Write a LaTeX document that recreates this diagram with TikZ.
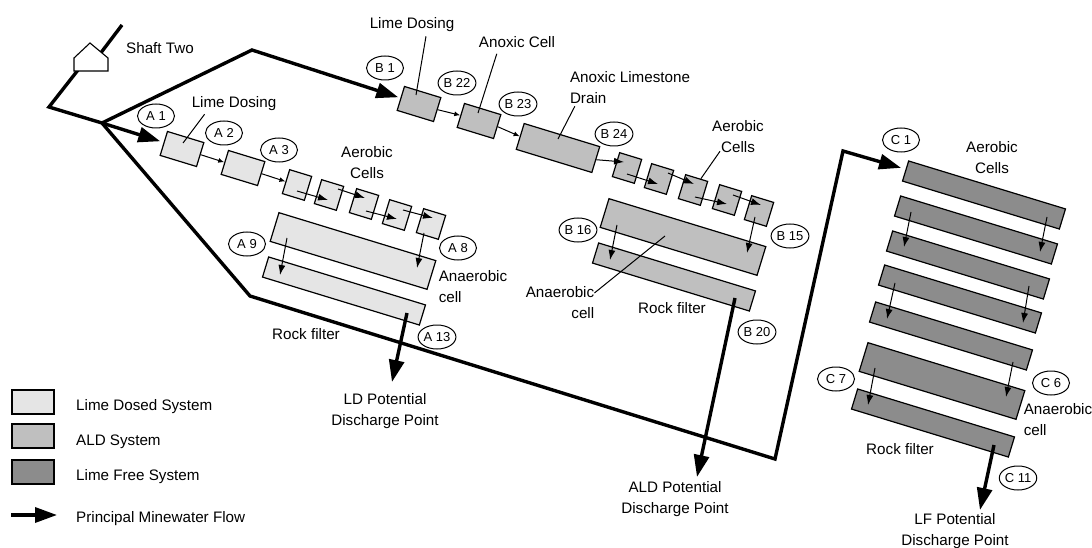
\documentclass[tikz,border=0pt]{standalone}
\usepackage{fontspec}
\setmainfont{Liberation Sans}
\usetikzlibrary{shapes.geometric,arrows.meta,calc}
\definecolor{limegrey}{gray}{0.90}
\definecolor{aldgrey}{gray}{0.75}
\definecolor{freegrey}{gray}{0.55}
\tikzset{
  unit/.style={draw,line width=1.2pt,rotate=-17,inner sep=0pt},
  dosing/.style={unit,minimum width=38pt,minimum height=25pt},
  cell/.style={unit,minimum width=23pt,minimum height=25pt},
  anaerobic/.style={unit,minimum width=164pt,minimum height=30pt},
  filter/.style={unit,minimum width=164pt,minimum height=21pt},
  legendbox/.style={draw,line width=1.4pt,minimum width=42pt,minimum height=24pt,inner sep=0pt},
  tag/.style={ellipse,draw,fill=white,line width=1pt,minimum width=37pt,minimum height=24pt,
    inner sep=0pt,font=\fontsize{13}{14}\selectfont},
  caption/.style={align=center,inner sep=0pt,font=\fontsize{15.2}{21}\selectfont},
  pipe/.style={line width=3.4pt,line join=miter},
  mainflow/.style={pipe,-{Triangle[length=22pt,width=15pt]}},
  smallflow/.style={line width=1pt,-{Latex[length=6pt,width=5pt]}},
  cellflow/.style={line width=1pt,-{Latex[length=10pt,width=7pt]}},
  leader/.style={line width=1pt}
}
\begin{document}
\begin{tikzpicture}[x=1pt,y=-1pt]
  \useasboundingbox (0,0) rectangle (1092,548);
  % pipe work
  \coordinate (shafttop) at (122,25);
  \coordinate (shaftneck) at (100,54);
  \coordinate (shaftfoot) at (78,70);
  \coordinate (bend) at (49,107);
  \coordinate (junction) at (102,123);
  \coordinate (upper) at (252,50);
  \coordinate (lower) at (250,296);
  \coordinate (far) at (775,459);
  \coordinate (rise) at (843,151);
  \node[dosing,fill=limegrey] (a1) at (182,149) {};
  \node[dosing,fill=limegrey] (a2) at (243,168) {};
  \node[cell,fill=limegrey] (acell1) at (297,185) {};
  \node[cell,fill=limegrey] (acell2) at (329,195) {};
  \node[cell,fill=limegrey] (acell3) at (364,204) {};
  \node[cell,fill=limegrey] (acell4) at (397,215) {};
  \node[cell,fill=limegrey] (acell5) at (431,224) {};
  \node[anaerobic,fill=limegrey] (asettle) at (353,251) {};
  \node[filter,fill=limegrey] (afilter) at (344,291) {};
  \node[dosing,fill=aldgrey] (b1) at (419,104) {};
  \node[dosing,fill=aldgrey] (b2) at (479,121) {};
  \node[unit,fill=aldgrey,minimum width=79pt,minimum height=27pt] (bdrain) at (558,148) {};
  \node[cell,fill=aldgrey] (bcell1) at (627,168) {};
  \node[cell,fill=aldgrey] (bcell2) at (659,179) {};
  \node[cell,fill=aldgrey] (bcell3) at (693,190) {};
  \node[cell,fill=aldgrey] (bcell4) at (727,200) {};
  \node[cell,fill=aldgrey] (bcell5) at (759,211) {};
  \node[anaerobic,fill=aldgrey] (bsettle) at (683,237) {};
  \node[filter,fill=aldgrey] (bfilter) at (674,277) {};
  \node[filter,fill=freegrey] (c1) at (984,195) {};
  \node[filter,fill=freegrey] (c2) at (976,230) {};
  \node[filter,fill=freegrey] (c3) at (968,265) {};
  \node[filter,fill=freegrey] (c4) at (960,299) {};
  \node[filter,fill=freegrey] (c5) at (951,336) {};
  \node[anaerobic,fill=freegrey] (c6) at (942,381) {};
  \node[filter,fill=freegrey] (c7) at (933,423) {};
  \draw[pipe] (shafttop) -- (shaftneck);
  \draw[pipe] (shaftfoot) -- (bend) -- (junction);
  \draw[mainflow] (junction) -- (upper) -- ($(b1.west)+(-2,-1)$);
  \draw[mainflow] (junction) -- ($(a1.west)+(-3,-2)$);
  \draw[mainflow] (junction) -- (lower) -- (far) -- (rise) -- ($(c1.west)+(-4,-3)$);
  \draw[fill=white,line width=1.1pt] (74,71) -- (74,58) -- (90,43) -- (108,58) -- (108,71) -- cycle;
  % flow between units
  \draw[smallflow] (a1.east) -- (a2.west);
  \draw[smallflow] (a2.east) -- (acell1.west);
  \draw[smallflow] (b1.east) -- (b2.west);
  \draw[smallflow] (b2.east) -- (bdrain.west);
  \draw[cellflow] (bdrain.east) -- ($(bcell1)+(-3,-6)$);
  \foreach \sys in {a,b} {
    \draw[cellflow] ($(\sys cell1)+(0,6)$) -- ($(\sys cell2)+(-1,5)$);
    \draw[cellflow] ($(\sys cell2)+(9,-6)$) -- ($(\sys cell3)+(1,-6)$);
    \draw[cellflow] ($(\sys cell3)+(2,7)$) -- ($(\sys cell4)+(0,4)$);
    \draw[cellflow] ($(\sys cell4)+(6,-5)$) -- ($(\sys cell5)+(2,-6)$);
  }
  \foreach \from/\sx/\sy/\to/\ex/\ey in {acell5/-7/9/asettle/64/17,asettle/-66/-13/afilter/-64/-16,
    bcell5/-4/6/bsettle/64/16,bsettle/-66/-12/bfilter/-64/-17,
    c1/63/22/c2/64/22,c2/-65/-18/c3/-64/-18,c3/61/21/c4/63/24,
    c4/-65/-16/c5/-64/-17,c5/62/26/c6/64/16,c6/-67/-13/c7/-65/-18}
    \draw[cellflow] ($(\from)+(\sx,\sy)$) -- ($(\to)+(\ex,\ey)$);
  % discharge points
  \coordinate (ldout) at (392,382);
  \coordinate (aldout) at (697,477);
  \coordinate (lfout) at (980,510);
  \draw[mainflow] ($(afilter)+(63,22)$) -- (ldout);
  \draw[mainflow] ($(bfilter)+(61,21)$) -- (aldout);
  \draw[mainflow] ($(c7)+(61,22)$) -- (lfout);
  \node[caption] (ldtext) at (385,411) {LD Potential\\Discharge Point};
  \node[caption] (aldtext) at (675,499) {ALD Potential\\Discharge Point};
  \node[caption] (lftext) at (955,531) {LF Potential\\Discharge Point};
  % texts
  \node[caption] (shafttext) at (160,48) {Shaft Two};
  \node[caption] (alime) at (234,104) {Lime Dosing};
  \node[caption] (aaerobic) at (367,163) {Aerobic\\Cells};
  \node[caption,align=left] (aanaerobic) at (473,287) {Anaerobic\\cell};
  \node[caption] (arock) at (306,334) {Rock filter};
  \node[caption] (blime) at (412,25) {Lime Dosing};
  \node[caption] (banoxic) at (517,42) {Anoxic Cell};
  \node[caption,align=left] (bdraintext) at (630,88) {Anoxic Limestone\\Drain};
  \node[caption] (baerobic) at (738,137) {Aerobic\\Cells};
  \node[caption,align=right] (banaerobic) at (560,303) {Anaerobic\\cell};
  \node[caption] (brock) at (672,308) {Rock filter};
  \node[caption] (caerobic) at (992,158) {Aerobic\\Cells};
  \node[caption,align=left] (canaerobic) at (1058,420) {Anaerobic\\cell};
  \node[caption] (crock) at (900,449) {Rock filter};
  \draw[leader] (alime.south west) ++(13,3) -- ($(a1)+(1,-6)$);
  \draw[leader] (blime.south) ++(14,4) -- ($(b1)+(-3,-9)$);
  \draw[leader] (banoxic.south west) ++(18,6) -- ($(b2)+(-1,-8)$);
  \draw[leader] (bdraintext.south west) ++(5,2) -- ($(bdrain)+(0,-9)$);
  \draw[leader] (baerobic.south) ++(-18,-2) -- (bcell3);
  \draw[leader] (banaerobic.east) ++(0,-10) -- ($(bsettle)+(-18,-1)$);
  % tags
  \foreach \tagname/\tagtext/\tagx/\tagy in {ta1/A 1/156/116,ta2/A 2/224/133,ta3/A 3/279/150,
    ta9/A 9/247/244,ta8/A 8/458/248,ta13/A 13/437/337,
    tb1/B 1/385/68,tb22/B 22/457/83,tb23/B 23/518/104,tb24/B 24/614/134,
    tb16/B 16/578/230,tb15/B 15/790/236,tb20/B 20/757/332,
    tc1/C 1/901/140,tc7/C 7/836/379,tc6/C 6/1051/383,tc11/C 11/1018/478}
    \node[tag] (\tagname) at (\tagx,\tagy) {\tagtext};
  % legend
  \node[legendbox,fill=limegrey] (keylime) at (33,402) {};
  \node[legendbox,fill=aldgrey] (keyald) at (33,436) {};
  \node[legendbox,fill=freegrey] (keyfree) at (33,472) {};
  \coordinate (keystart) at (11,515);
  \coordinate (keyend) at (57,515);
  \draw[mainflow] (keystart) -- (keyend);
  \node[caption,anchor=west] (keylimetext) at (76,407) {Lime Dosed System};
  \node[caption,anchor=west] (keyaldtext) at (76,442) {ALD System};
  \node[caption,anchor=west] (keyfreetext) at (76,477) {Lime Free System};
  \node[caption,anchor=west] (keyflowtext) at (76,519) {Principal Minewater Flow};
\end{tikzpicture}
\end{document}
